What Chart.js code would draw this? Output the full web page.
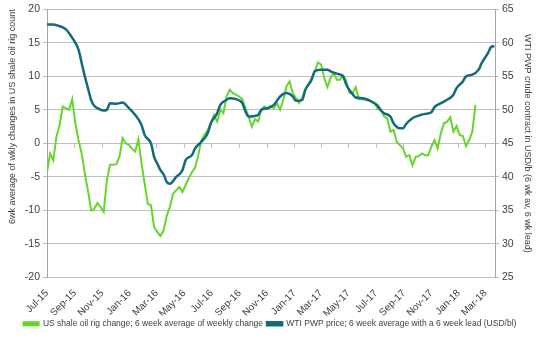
<!DOCTYPE html>
<html>
<head>
<meta charset="utf-8">
<script src="https://cdn.jsdelivr.net/npm/chart.js@4.4.1/dist/chart.umd.min.js"></script>
<style>
  html, body { margin: 0; padding: 0; background: #fff; }
</style>
</head>
<body>
<canvas id="rigChart" width="540" height="351"></canvas>
<script>
// x axis labels, one every two months starting Jul-15
const tickLabels = ['Jul-15', 'Sep-15', 'Nov-15', 'Jan-16', 'Mar-16', 'May-16', 'Jul-16', 'Sep-16', 'Nov-16',
    'Jan-17', 'Mar-17', 'May-17', 'Jul-17', 'Sep-17', 'Nov-17', 'Jan-18', 'Mar-18'];

// US shale oil rig change, 6 wk average, one value per week from week 0 (start of Jul-15)
const rigChange = [
    -4.25, -1.5, -2.5, 1, 2.75, 5.5, 5.25, 5, 6.6, 3,
    0.5, -1.5, -4.5, -7, -10, -9.75, -8.9, -9.5, -10.2, -5.5,
    -3.2, -3.2, -3.1, -2, 0.8, 0, -0.2, -0.8, -1.2, 0.6,
    -3, -6, -9, -9.25, -12.5, -13.2, -13.8, -13, -10.8, -9.5,
    -7.5, -7, -6.5, -7.25, -6.2, -5.2, -4.3, -3.6, -1.8, 0.5,
    1.3, 2, 3, 4.25, 3.25, 5, 4.5, 7, 8, 7.5,
    7.25, 7, 6.6, 5.25, 4, 2.5, 3.6, 3.25, 5, 5.5,
    5.25, 5.6, 5.25, 6, 5, 6.5, 8.5, 9.25, 7.5, 6.75,
    6, 6.75, 8, 8.75, 9.75, 10.75, 12.1, 11.75, 9.75, 8.4,
    9.75, 10.5, 9.5, 9.5, 10.1, 9.25, 7.5, 7.5, 8.4, 6.6,
    6.6, 6.5, 6.4, 6.25, 6, 5.1, 5, 4, 3.75, 1.75,
    2, 0.25, -0.25, -0.75, -2, -1.75, -3.25, -2, -1.9, -1.5,
    -1.75, -1.75, -0.5, 0.5, -0.75, 1.5, 3, 3.25, 3.9, 1.75,
    2.6, 1.25, 1.1, -0.4, 0.5, 1.75, 5.75
];

// WTI PWP price (6 wk av, 6 wk lead), read at these weeks
const wtiWeeks = [0, 2, 4, 6, 8, 10, 11, 12, 13, 14, 15, 16, 18, 19, 20, 22, 24, 26, 28, 30,
    31, 33, 34, 35, 36, 37, 38, 39, 41, 43, 44, 46, 47, 49, 51, 52, 54, 55, 57, 58,
    60, 62, 63, 64, 66, 67, 68, 70, 72, 74, 76, 78, 79, 81, 82, 84, 85, 87, 89, 90,
    92, 94, 95, 97, 98, 100, 101, 103, 105, 106, 107, 109, 110, 112, 113, 114, 116, 118, 120, 122,
    123, 125, 127, 129, 130, 132, 133, 135, 137, 138, 140, 141, 142];
const wtiPrice = [62.75, 62.75, 62.5, 62, 60.75, 59, 57, 55, 53.25, 51.5, 50.6, 50.25, 49.9, 50, 51, 50.9, 51.1, 50.25, 49.25, 47.75,
    46.25, 45, 43, 42, 41, 40.4, 39.25, 39, 40, 41, 42.5, 43.25, 44.25, 45.25, 46.5, 48, 49.5, 50.75, 51.5, 51.75,
    51.6, 51, 49.75, 49, 49.1, 49.25, 50, 50.25, 50.75, 52, 52.5, 52, 51.35, 51.5, 53, 54.5, 55.75, 56, 56, 55.75,
    55.4, 55, 53.75, 52.35, 51.85, 51.75, 51.65, 51.25, 50.6, 49.9, 49.5, 49, 48, 47.25, 47.25, 47.9, 48.75, 49.15, 49.4, 49.65,
    50.4, 51, 51.5, 52.25, 53.25, 54.25, 55, 55.25, 56, 57, 58.5, 59.4, 59.5];

const startDate = Date.UTC(2015, 6, 1);
const weekMs = 7 * 24 * 3600 * 1000;

// tick positions (in weeks) for the first day of every second month
const tickWeeks = tickLabels.map((l, i) => (Date.UTC(2015, 6 + 2 * i, 1) - startDate) / weekMs);

const setTicks = function (scale) {
    scale.ticks = tickWeeks.map(v => ({ value: v }));
};

const gridColor = '#bfbfbf';
const textColor = '#404040';
const fontFamily = "'Liberation Sans', Arial, sans-serif";

const ctx = document.getElementById('rigChart').getContext('2d');
const chart = new Chart(ctx, {
    type: 'line',
    data: {
        datasets: [{
            label: 'US shale oil rig change; 6 week average of weekly change',
            data: rigChange.map((v, i) => ({ x: i, y: v })),
            borderColor: '#66d62a',
            backgroundColor: '#66d62a',
            borderWidth: 2,
            pointRadius: 0,
            tension: 0,
            yAxisID: 'y',
            order: 1
        }, {
            label: 'WTI PWP price; 6 week average with a 6 week lead (USD/bl)',
            data: wtiWeeks.map((w, i) => ({ x: w, y: wtiPrice[i] })),
            borderColor: '#136a7e',
            backgroundColor: '#136a7e',
            borderWidth: 2.5,
            pointRadius: 0,
            cubicInterpolationMode: 'monotone',
            yAxisID: 'y1',
            order: 0
        }]
    },
    options: {
        responsive: false,
        animation: false,
        devicePixelRatio: 1,
        layout: { padding: { top: 9, left: 0, right: 0, bottom: 13 } },
        plugins: {
            tooltip: { enabled: false },
            legend: {
                position: 'bottom',
                labels: {
                    boxWidth: 15,
                    boxHeight: 3,
                    padding: 4,
                    color: textColor,
                    font: { family: fontFamily, size: 8.5 },
                    sort: (a, b) => a.datasetIndex - b.datasetIndex
                }
            }
        },
        scales: {
            x: {
                type: 'linear',
                min: 0,
                max: 142.2,
                afterBuildTicks: setTicks,
                afterFit: s => { s.height = 38; },
                grid: { display: false },
                border: { display: false },
                ticks: {
                    autoSkip: false,
                    minRotation: 45,
                    maxRotation: 45,
                    padding: 2,
                    color: textColor,
                    font: { family: fontFamily, size: 10 },
                    callback: (v, i) => tickLabels[i]
                }
            },
            // axis line with tick marks at the zero level
            xZero: {
                type: 'linear',
                position: { y: 0 },
                min: 0,
                max: 142.2,
                afterBuildTicks: setTicks,
                grid: { drawOnChartArea: false, drawTicks: true, tickLength: 4, color: gridColor },
                border: { display: true, color: gridColor },
                ticks: { display: false }
            },
            y: {
                position: 'left',
                min: -20,
                max: 20,
                afterFit: s => { s.width = 47; },
                ticks: {
                    stepSize: 5,
                    padding: 3,
                    color: textColor,
                    font: { family: fontFamily, size: 10.5 }
                },
                grid: { color: gridColor, tickLength: 4 },
                border: { color: '#a6a6a6' },
                title: {
                    display: true,
                    text: '6wk average of wkly changes in US shale oil rig count',
                    align: 'end',
                    color: textColor,
                    font: { family: fontFamily, size: 9 },
                    padding: { top: 7, bottom: 2 }
                }
            },
            y1: {
                position: 'right',
                min: 25,
                max: 65,
                afterFit: s => { s.width = 45; },
                ticks: {
                    stepSize: 5,
                    padding: 3,
                    color: textColor,
                    font: { family: fontFamily, size: 10.5 }
                },
                grid: { drawOnChartArea: false, color: gridColor, tickLength: 4 },
                border: { color: '#a6a6a6' },
                title: {
                    display: true,
                    text: 'WTI PWP crude contract in USD/b (6 wk av, 6 wk lead)',
                    color: textColor,
                    font: { family: fontFamily, size: 9 },
                    padding: { top: 7, bottom: 0 }
                }
            }
        }
    }
});
</script>
</body>
</html>
